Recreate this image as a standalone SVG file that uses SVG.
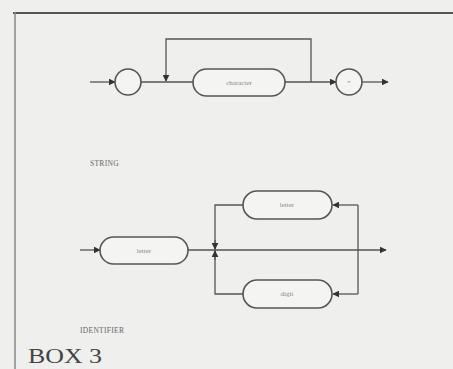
<svg xmlns="http://www.w3.org/2000/svg" width="453" height="369" viewBox="0 0 453 369">
<style>
.ln{fill:none;stroke:#555;stroke-width:1.3}
.nd{fill:#f4f4f2;stroke:#555;stroke-width:1.6}
.t{font-family:"Liberation Serif",serif;fill:#888;text-anchor:middle}
.lab{font-family:"Liberation Serif",serif;fill:#666;font-size:7.5px;letter-spacing:0.3px}
</style>
<defs>
<marker id="ar" viewBox="0 0 10 10" refX="9" refY="5" markerWidth="7" markerHeight="7" markerUnits="userSpaceOnUse" orient="auto">
<path d="M0,0 L10,5 L0,10 z" fill="#333"/>
</marker>
</defs>
<rect width="453" height="369" fill="#efefed"/>
<g id="frame">
<path d="M13,13 H453" stroke="#555" stroke-width="2" fill="none"/>
<path d="M15,12 V369" stroke="#888" stroke-width="1.5" fill="none"/>
</g>
<g id="connectors">
<path class="ln" d="M90,82 H115" marker-end="url(#ar)"/>
<path class="ln" d="M141,82 H193"/>
<path class="ln" d="M285,82 H336" marker-end="url(#ar)"/>
<path class="ln" d="M311,82 V39 H166 V81" marker-end="url(#ar)"/>
<path class="ln" d="M362,82 H388" marker-end="url(#ar)"/>
<path class="ln" d="M80,250 H100" marker-end="url(#ar)"/>
<path class="ln" d="M188,250 H386" marker-end="url(#ar)"/>
<path class="ln" d="M243,205 H215 V294 H243"/>
<path class="ln" d="M215,240 V249" marker-end="url(#ar)"/>
<path class="ln" d="M215,260 V251" marker-end="url(#ar)"/>
<path class="ln" d="M358,205 V294"/>
<path class="ln" d="M358,205 H333" marker-end="url(#ar)"/>
<path class="ln" d="M358,294 H333" marker-end="url(#ar)"/>
</g>
<g id="open-quote">
<circle class="nd" cx="128" cy="82" r="13"/>
</g>
<g id="character">
<rect class="nd" x="193" y="69" width="92" height="27" rx="13.5"/>
<text class="t" x="239" y="85" font-size="7">character</text>
</g>
<g id="close-quote">
<circle class="nd" cx="349" cy="82" r="13"/>
<text class="t" x="349" y="87" font-size="8">"</text>
</g>
<g id="string-label"><text class="lab" x="90" y="166">STRING</text></g>
<g id="letter1">
<rect class="nd" x="100" y="237" width="88" height="27" rx="13.5"/>
<text class="t" x="144" y="253" font-size="7">letter</text>
</g>
<g id="letter2">
<rect class="nd" x="243" y="191" width="89" height="28" rx="14"/>
<text class="t" x="287" y="207" font-size="7">letter</text>
</g>
<g id="digit">
<rect class="nd" x="243" y="280" width="89" height="28" rx="14"/>
<text class="t" x="287" y="296" font-size="7">digit</text>
</g>
<g id="identifier-label"><text class="lab" x="80" y="333">IDENTIFIER</text></g>
<g id="title"><text x="28" y="363" font-family="Liberation Serif,serif" font-size="20" fill="#444" textLength="74" lengthAdjust="spacingAndGlyphs">BOX 3</text></g>
</svg>
